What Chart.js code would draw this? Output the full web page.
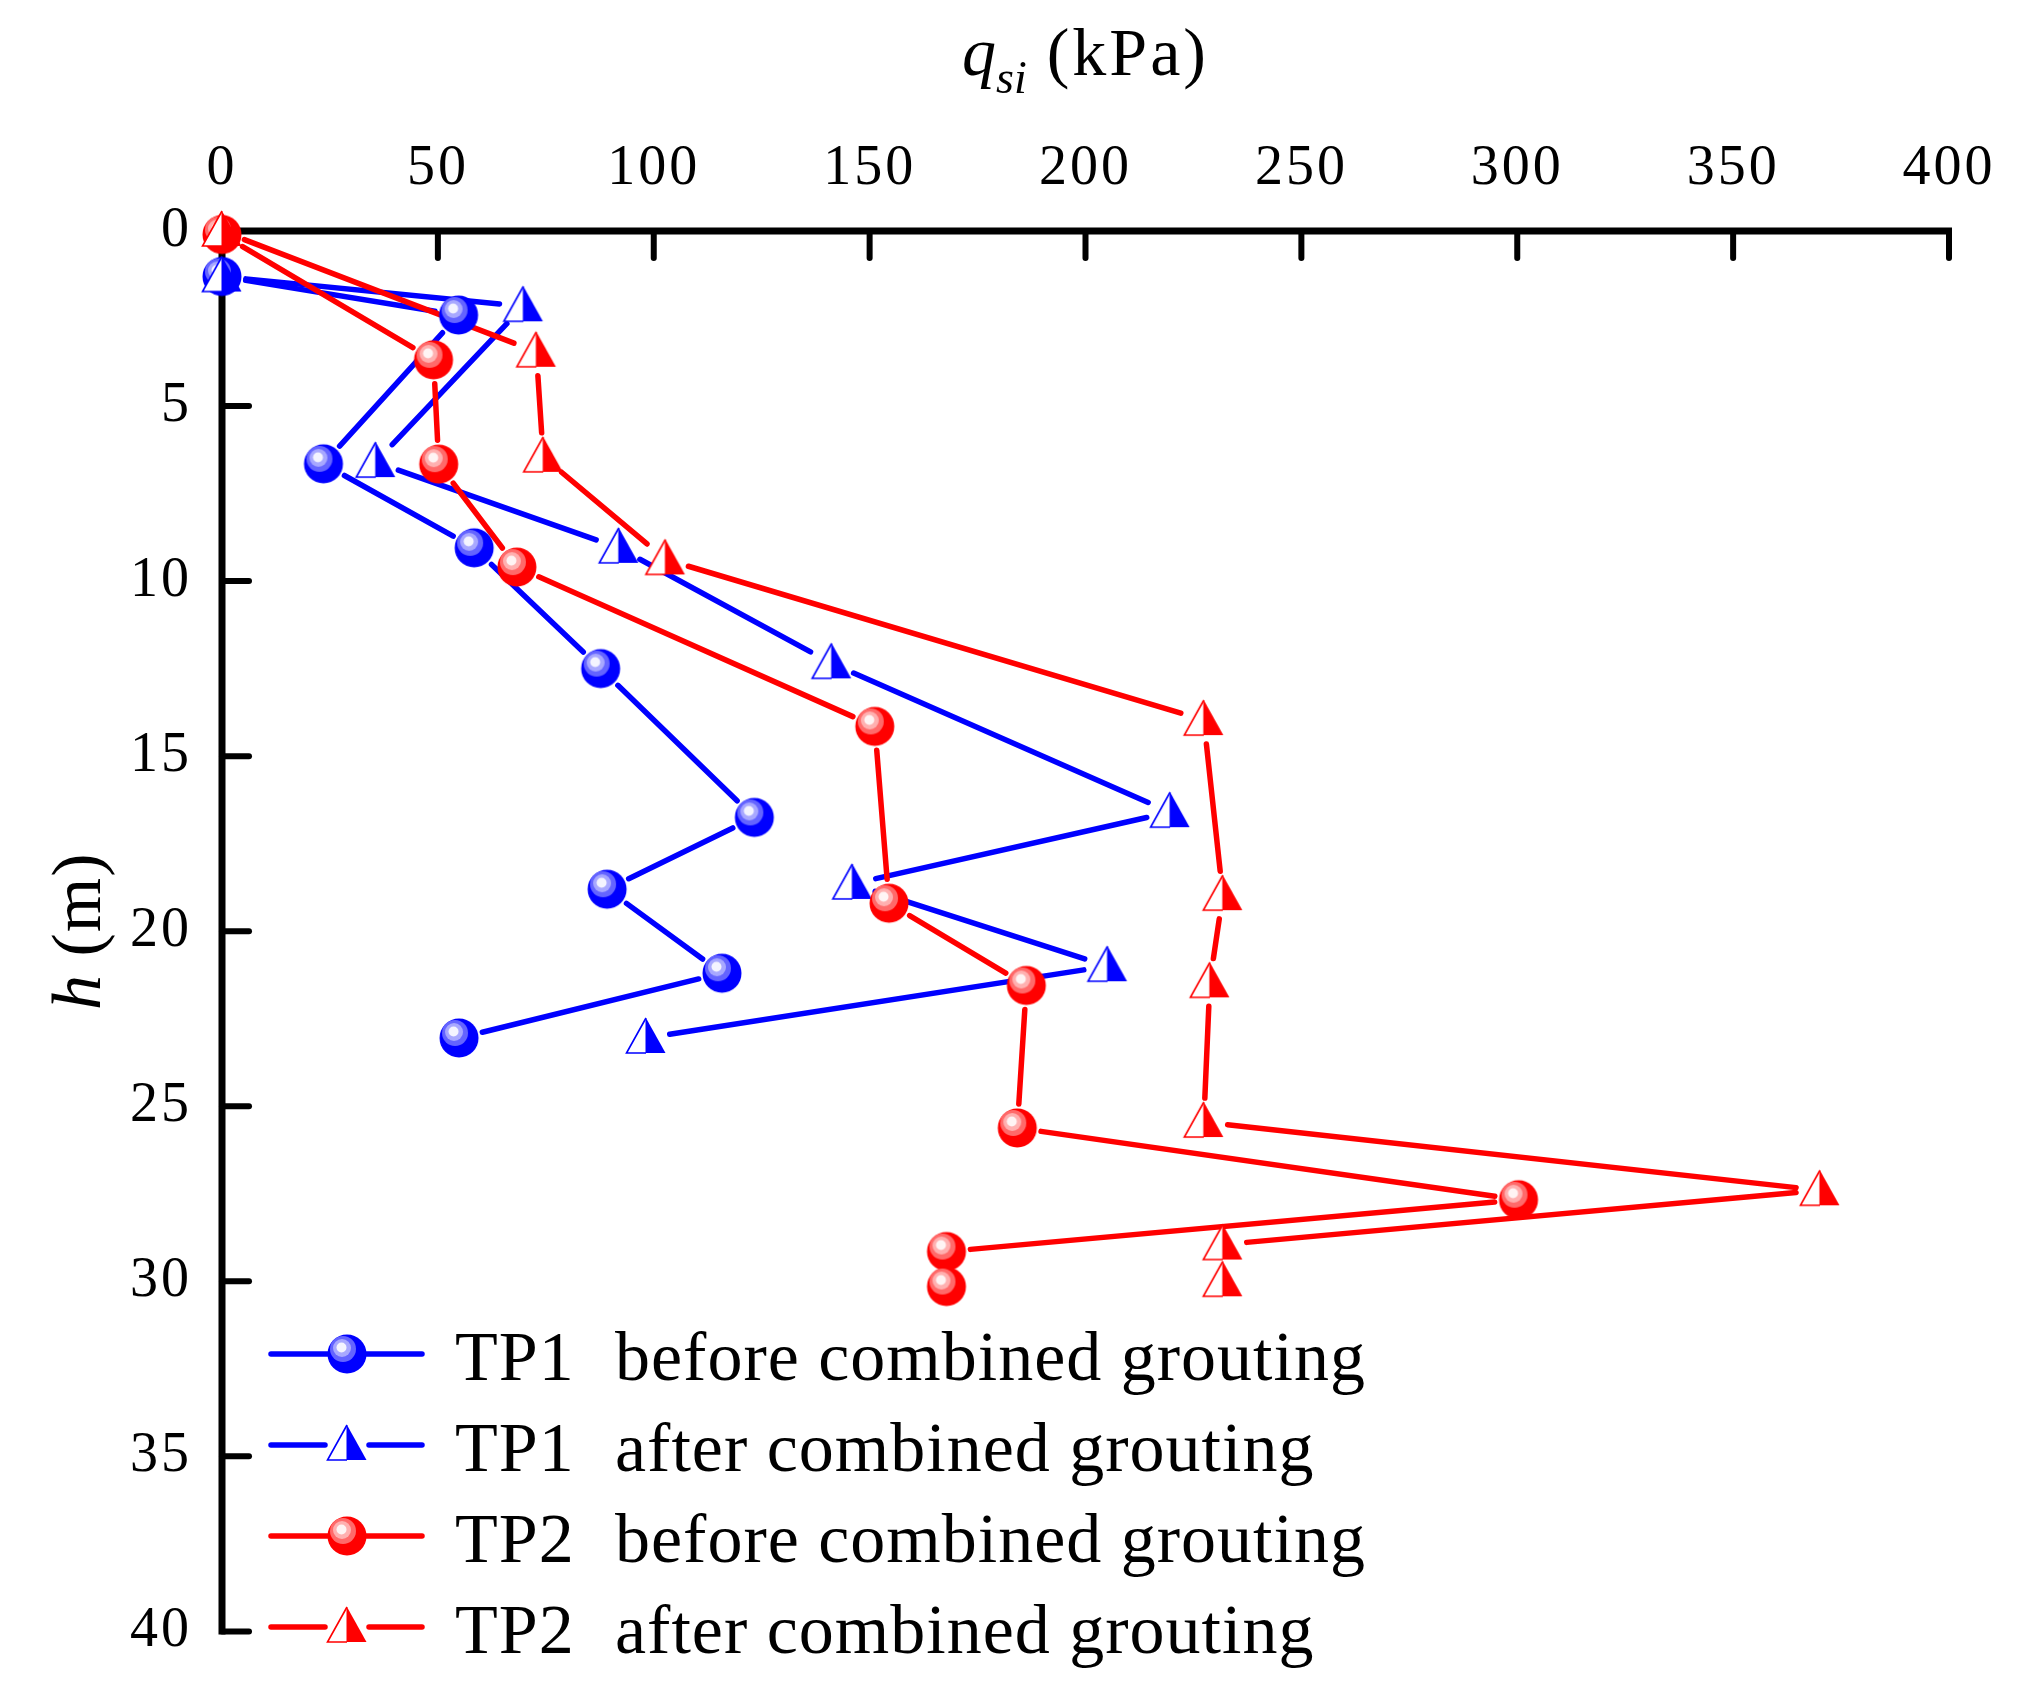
<!DOCTYPE html>
<html>
<head>
<meta charset="utf-8">
<script src="https://cdn.jsdelivr.net/npm/chart.js@4/dist/chart.umd.min.js"></script>
<style>
html,body{margin:0;padding:0;background:#fff;}
#c{display:block;}
</style>
</head>
<body>
<canvas id="c" width="2024" height="1695"></canvas>
<script>
// ---- data ----
const xTicks = [0, 50, 100, 150, 200, 250, 300, 350, 400];
const yTicks = [0, 5, 10, 15, 20, 25, 30, 35, 40];
const seriesNames = [
  'TP1  before combined grouting',
  'TP1  after combined grouting',
  'TP2  before combined grouting',
  'TP2  after combined grouting'
];
const tp1BeforeQ = [0, 54.8, 23.5, 58.4, 87.7, 123.3, 89.2, 115.8, 54.9];
const tp1BeforeH = [1.3, 2.4, 6.65, 9.05, 12.5, 16.75, 18.8, 21.2, 23.05];
const tp1AfterQ  = [0, 69.8, 35.6, 91.9, 141.2, 219.6, 146.0, 205.1, 98.2];
const tp1AfterH  = [1.3, 2.15, 6.6, 9.05, 12.35, 16.6, 18.65, 21.0, 23.05];
const tp2BeforeQ = [0, 49.0, 50.2, 68.3, 151.2, 154.5, 186.3, 184.2, 300.3, 167.8, 167.8];
const tp2BeforeH = [0.1, 3.68, 6.66, 9.6, 14.15, 19.2, 21.55, 25.62, 27.67, 29.15, 30.15];
const tp2AfterQ  = [0, 72.8, 74.4, 102.7, 227.4, 231.8, 228.8, 227.4, 370.1, 231.8, 231.8];
const tp2AfterH  = [0, 3.45, 6.45, 9.38, 13.97, 18.97, 21.46, 25.45, 27.4, 28.95, 30.0];

const BLUE = '#0000ff';
const RED = '#ff0000';
const SERIF = '"Liberation Serif", "Times New Roman", serif';

// ---- marker sprites ----
function makeBall(base, mid, light, hi) {
  const s = 44, c = document.createElement('canvas');
  c.width = s; c.height = s;
  const g = c.getContext('2d');
  const cx = s / 2, cy = s / 2;
  function circ(x, y, r, col) { g.fillStyle = col; g.beginPath(); g.arc(x, y, r, 0, Math.PI * 2); g.fill(); }
  circ(cx, cy, 19.5, base);
  circ(cx - 4, cy - 5, 13, mid);
  circ(cx - 5, cy - 6, 9, light);
  circ(cx - 5.5, cy - 6.5, 5, hi);
  return c;
}
function makeTri(col) {
  const s = 44, c = document.createElement('canvas');
  c.width = s; c.height = s;
  const g = c.getContext('2d');
  const cx = s / 2, top = s / 2 - 20, bot = s / 2 + 15, hw = 19.5;
  g.fillStyle = '#fff';
  g.beginPath(); g.moveTo(cx, top); g.lineTo(cx - hw, bot); g.lineTo(cx, bot); g.closePath(); g.fill();
  g.strokeStyle = col; g.lineWidth = 1.6;
  g.beginPath(); g.moveTo(cx, top); g.lineTo(cx - hw, bot); g.lineTo(cx, bot); g.stroke();
  g.fillStyle = col;
  g.beginPath(); g.moveTo(cx, top); g.lineTo(cx + hw, bot); g.lineTo(cx - 0.5, bot); g.lineTo(cx - 0.5, top); g.closePath(); g.fill();
  return c;
}
const blueBall = makeBall(BLUE, '#6464ff', '#a8a8ff', '#f4f4ff');
const redBall = makeBall(RED, '#ff6a6a', '#ffb0b0', '#fff4f4');
const blueTri = makeTri(BLUE);
const redTri = makeTri(RED);

function pts(xs, ys) { return xs.map((v, i) => ({ x: v, y: ys[i] })); }

const datasets = [
  { label: seriesNames[0], data: pts(tp1BeforeQ, tp1BeforeH), borderColor: BLUE, pointStyle: blueBall, order: 3 },
  { label: seriesNames[1], data: pts(tp1AfterQ, tp1AfterH), borderColor: BLUE, pointStyle: blueTri, order: 2 },
  { label: seriesNames[2], data: pts(tp2BeforeQ, tp2BeforeH), borderColor: RED, pointStyle: redBall, order: 1 },
  { label: seriesNames[3], data: pts(tp2AfterQ, tp2AfterH), borderColor: RED, pointStyle: redTri, order: 0 }
].map(d => Object.assign(d, {
  showLine: false, pointRadius: 20, pointHoverRadius: 20, clip: false,
  backgroundColor: d.borderColor
}));

// ---- plugins ----
const LINE_W = 5.5;
const GAP = 24;

const axesAndLines = {
  id: 'axesAndLines',
  beforeDatasetsDraw(chart) {
    const ctx = chart.ctx, a = chart.chartArea;
    const xs = chart.scales.x, ys = chart.scales.y;
    ctx.save();
    ctx.letterSpacing = '0px';
    // axis lines
    ctx.strokeStyle = '#000';
    ctx.lineWidth = 7;
    ctx.lineJoin = 'miter';
    ctx.lineCap = 'butt';
    ctx.beginPath();
    ctx.moveTo(a.right + 3, a.top);
    ctx.lineTo(a.left, a.top);
    ctx.lineTo(a.left, a.bottom + 3);
    ctx.stroke();
    // inward ticks
    ctx.lineWidth = 6;
    ctx.lineCap = 'round';
    xTicks.forEach(v => {
      const px = xs.getPixelForValue(v);
      if (v === 0) return;
      ctx.beginPath(); ctx.moveTo(px, a.top); ctx.lineTo(px, a.top + 27); ctx.stroke();
    });
    yTicks.forEach(v => {
      const py = ys.getPixelForValue(v);
      if (v === 0) return;
      ctx.beginPath(); ctx.moveTo(a.left, py); ctx.lineTo(a.left + 27, py); ctx.stroke();
    });
    // connecting lines with gaps at markers
    ctx.lineWidth = LINE_W;
    ctx.lineCap = 'round';
    chart.data.datasets.forEach((ds, i) => {
      const p = chart.getDatasetMeta(i).data;
      ctx.strokeStyle = ds.borderColor;
      for (let k = 0; k < p.length - 1; k++) {
        const A = p[k], B = p[k + 1];
        const dx = B.x - A.x, dy = B.y - A.y, L = Math.hypot(dx, dy);
        if (L <= 2 * GAP + 2) continue;
        const ux = dx / L, uy = dy / L;
        ctx.beginPath();
        ctx.moveTo(A.x + ux * GAP, A.y + uy * GAP);
        ctx.lineTo(B.x - ux * GAP, B.y - uy * GAP);
        ctx.stroke();
      }
    });
    ctx.restore();
  }
};

function drawParts(ctx, parts, x, y) {
  let cx = x;
  parts.forEach(p => {
    ctx.font = p.font;
    ctx.letterSpacing = p.ls || '0px';
    ctx.fillText(p.t, cx, y + (p.dy || 0));
    cx += ctx.measureText(p.t).width;
  });
}
function partsWidth(ctx, parts) {
  let w = 0;
  parts.forEach(p => { ctx.font = p.font; ctx.letterSpacing = p.ls || '0px'; w += ctx.measureText(p.t).width; });
  return w;
}

const titlesAndLegend = {
  id: 'titlesAndLegend',
  beforeDraw(chart) { chart.ctx.letterSpacing = '3px'; },
  afterDraw(chart) {
    const ctx = chart.ctx, a = chart.chartArea;
    ctx.save();
    ctx.fillStyle = '#000';
    ctx.textBaseline = 'alphabetic';
    ctx.textAlign = 'left';
    // x title
    const xParts = [
      { t: 'q', font: 'italic 68px ' + SERIF },
      { t: 'si', font: 'italic 46px ' + SERIF, dy: 18 },
      { t: ' (kPa)', font: '68px ' + SERIF, ls: '3px' }
    ];
    const xw = partsWidth(ctx, xParts);
    drawParts(ctx, xParts, (a.left + a.right) / 2 - xw / 2, 75);
    // y title
    const yParts = [
      { t: 'h', font: 'italic 70px ' + SERIF },
      { t: ' (m)', font: '70px ' + SERIF, ls: '1px' }
    ];
    const yw = partsWidth(ctx, yParts);
    ctx.save();
    ctx.translate(100, (a.top + a.bottom) / 2);
    ctx.rotate(-Math.PI / 2);
    drawParts(ctx, yParts, -yw / 2, 0);
    ctx.restore();
    // legend
    const rows = [1354, 1445, 1536, 1627];
    const sprites = [blueBall, blueTri, redBall, redTri];
    chart.data.datasets.forEach((ds, i) => {
      const y = rows[i], mx = 347;
      ctx.strokeStyle = ds.borderColor;
      ctx.lineWidth = LINE_W;
      ctx.lineCap = 'round';
      const g = i % 2 === 0 ? 12 : 22;
      ctx.beginPath(); ctx.moveTo(271, y); ctx.lineTo(mx - g, y); ctx.stroke();
      ctx.beginPath(); ctx.moveTo(mx + g, y); ctx.lineTo(422, y); ctx.stroke();
      const sp = sprites[i];
      ctx.drawImage(sp, mx - sp.width / 2, y - sp.height / 2);
      const lbl = ds.label.split('  ');
      ctx.fillStyle = '#000';
      ctx.font = '70px ' + SERIF;
      ctx.letterSpacing = '1px';
      ctx.fillText(lbl[0], 455, y + 26);
      ctx.fillText(lbl[1], 615, y + 26);
    });
    ctx.restore();
    ctx.letterSpacing = '0px';
  }
};

new Chart(document.getElementById('c').getContext('2d'), {
  type: 'scatter',
  data: { datasets: datasets },
  options: {
    responsive: false,
    animation: false,
    devicePixelRatio: 1,
    layout: { padding: { left: 0, top: 0, right: 75, bottom: 54 } },
    plugins: { legend: { display: false }, tooltip: { enabled: false } },
    scales: {
      x: {
        type: 'linear', position: 'top', min: 0, max: 400,
        afterBuildTicks: s => { s.ticks = xTicks.map(v => ({ value: v })); },
        afterFit: s => { s.height = 231; },
        grid: { display: false, drawTicks: false },
        border: { display: false },
        ticks: { font: { family: SERIF, size: 56 }, color: '#000', padding: 28, maxRotation: 0, autoSkip: false }
      },
      y: {
        type: 'linear', position: 'left', reverse: true, min: 0, max: 40,
        afterBuildTicks: s => { s.ticks = yTicks.map(v => ({ value: v })); },
        afterFit: s => { s.width = 222; },
        grid: { display: false, drawTicks: false },
        border: { display: false },
        ticks: { font: { family: SERIF, size: 56 }, color: '#000', padding: 30, autoSkip: false }
      }
    }
  },
  plugins: [axesAndLines, titlesAndLegend]
});
</script>
</body>
</html>
